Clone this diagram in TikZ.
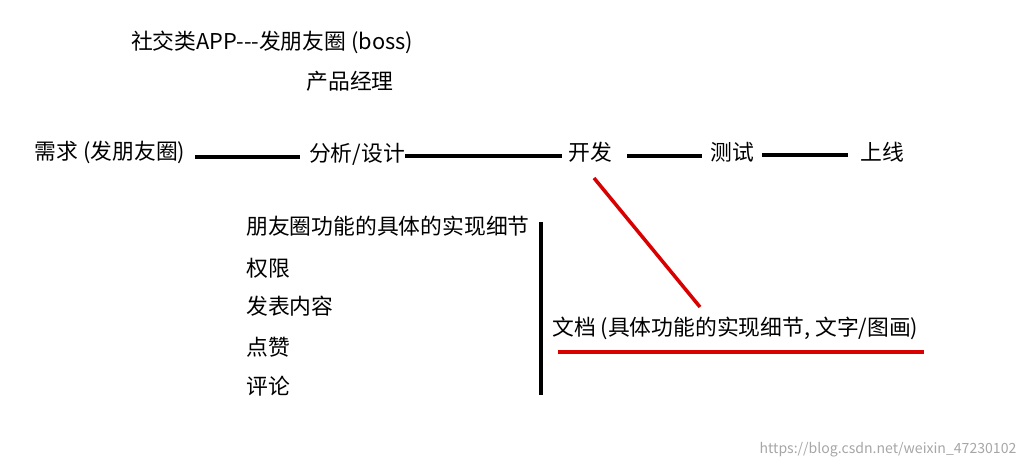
\documentclass[tikz,border=0pt]{standalone}
\usepackage{fontspec}
\setmainfont{Noto Sans CJK SC}
\usetikzlibrary{positioning}
\tikzset{
  txt/.style={inner sep=0pt, font=\fontsize{15.5}{17}\selectfont},
  blackline/.style={line width=3.5pt, black},
  redline/.style={line width=2.5pt, red!85!black}
}
\begin{document}
\begin{tikzpicture}[x=0.025cm,y=-0.025cm]
  \useasboundingbox (0,0) rectangle (1032,469);
  % title
  \node[txt] (title) at (272,42) {社交类APP{-}{-}{-}发朋友圈 (boss)};
  \node[txt] (pm) at (350,81) {产品经理};
  % flow
  \node[txt] (req) at (110,152) {需求 (发朋友圈)};
  \node[txt] (ana) at (357,154) {分析/设计};
  \node[txt] (dev) at (590,152) {开发};
  \node[txt] (test) at (732,152) {测试};
  \node[txt] (online) at (882,152) {上线};
  \draw[blackline] (195,157) -- (300,157);
  \draw[blackline] (405,156) -- (562,156);
  \draw[blackline] (627,156) -- (702,156);
  \draw[blackline] (762,155) -- (848,155);
  % details
  \node[txt, anchor=west] (d1) at (246,226) {朋友圈功能的具体的实现细节};
  \node[txt, anchor=west] (d2) at (246,268) {权限};
  \node[txt, anchor=west] (d3) at (246,306) {发表内容};
  \node[txt, anchor=west] (d4) at (246,347) {点赞};
  \node[txt, anchor=west] (d5) at (246,386) {评论};
  \draw[blackline] (541,222) -- (541,395);
  \node[txt, anchor=west] (doc) at (552,328) {文档 (具体功能的实现细节, 文字/图画)};
  \draw[redline] (594,178) -- (700,307);
  \draw[redline] (558,352) -- (924,352);
  \node[inner sep=0pt, font=\fontsize{10}{12}\selectfont, text=gray!70] (wm) at (888,450) {https://blog.csdn.net/weixin\_47230102};
\end{tikzpicture}
\end{document}
